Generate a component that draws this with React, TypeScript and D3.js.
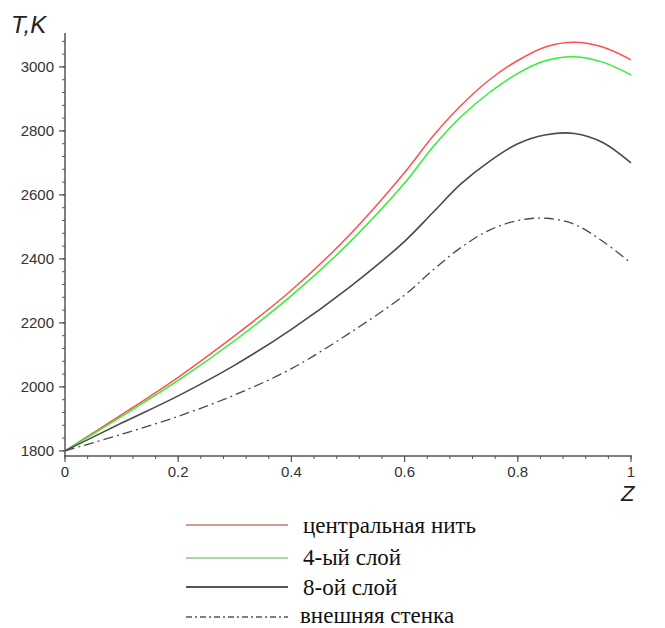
import React, { useEffect, useRef } from 'react';
import * as d3 from 'd3';

// z positions along the channel
const zValues = [0, 0.1, 0.2, 0.3, 0.4, 0.5, 0.6, 0.65, 0.7, 0.75, 0.8, 0.85, 0.9, 0.95, 1];

// temperatures, K
const centralThread = [1800, 1913, 2030, 2160, 2302, 2470, 2670, 2783, 2880, 2960, 3020, 3063, 3077, 3062, 3022];
const layer4 = [1800, 1908, 2020, 2145, 2285, 2447, 2637, 2750, 2845, 2920, 2980, 3020, 3032, 3015, 2975];
const layer8 = [1800, 1887, 1972, 2068, 2180, 2308, 2455, 2545, 2635, 2705, 2760, 2788, 2792, 2764, 2700];
const outerWall = [1800, 1852, 1908, 1975, 2057, 2165, 2287, 2365, 2436, 2490, 2520, 2527, 2508, 2455, 2387];

const seriesNames = ['центральная нить', '4-ый слой', '8-ой слой', 'внешняя стенка'];
const yTicks = [1800, 2000, 2200, 2400, 2600, 2800, 3000];
const xTicks = [0, 0.2, 0.4, 0.6, 0.8, 1];

const App = () => {
  const svgRef = useRef<SVGSVGElement>(null);

  useEffect(() => {
    const svg = d3.select(svgRef.current);
    svg.selectAll('*').remove();

    const x = d3.scaleLinear().domain([0, 1]).range([65, 631]);
    const y = d3.scaleLinear().domain([1784, 3106]).range([456, 33]);

    const axisColor = '#555';
    const sans = "'Liberation Sans', Arial, sans-serif";
    const serif = "'Liberation Serif', 'DejaVu Serif', serif";
    const g = svg.append('g');

    // y axis
    g.append('line')
      .attr('x1', 65).attr('x2', 65)
      .attr('y1', y(1784)).attr('y2', y(3106))
      .attr('stroke', axisColor).attr('stroke-width', 1.5);

    const yMinor = d3.range(1800, 3100, 40);
    g.selectAll('.ymin')
      .data(yMinor)
      .enter().append('line')
      .attr('x1', 62).attr('x2', 65)
      .attr('y1', d => y(d)).attr('y2', d => y(d))
      .attr('stroke', axisColor).attr('stroke-width', 1);

    g.selectAll('.ymaj')
      .data(yTicks)
      .enter().append('line')
      .attr('x1', 59).attr('x2', 65)
      .attr('y1', d => y(d)).attr('y2', d => y(d))
      .attr('stroke', axisColor).attr('stroke-width', 1.2);

    g.selectAll('.ylab')
      .data(yTicks)
      .enter().append('text')
      .attr('x', 54)
      .attr('y', d => y(d))
      .attr('dy', '0.36em')
      .attr('text-anchor', 'end')
      .style('font-family', sans)
      .attr('font-size', 15)
      .attr('fill', '#333')
      .text(d => d);

    // x axis
    g.append('line')
      .attr('x1', 64).attr('x2', x(1) + 1)
      .attr('y1', 456).attr('y2', 456)
      .attr('stroke', axisColor).attr('stroke-width', 1.5);

    const xMinor = d3.range(0, 1.001, 0.04);
    g.selectAll('.xmin')
      .data(xMinor)
      .enter().append('line')
      .attr('x1', d => x(d)).attr('x2', d => x(d))
      .attr('y1', 456).attr('y2', 459)
      .attr('stroke', axisColor).attr('stroke-width', 1);

    g.selectAll('.xmaj')
      .data(xTicks)
      .enter().append('line')
      .attr('x1', d => x(d)).attr('x2', d => x(d))
      .attr('y1', 456).attr('y2', 462)
      .attr('stroke', axisColor).attr('stroke-width', 1.2);

    g.selectAll('.xlab')
      .data(xTicks)
      .enter().append('text')
      .attr('x', d => x(d))
      .attr('y', 477)
      .attr('text-anchor', 'middle')
      .style('font-family', sans)
      .attr('font-size', 15)
      .attr('fill', '#333')
      .text(d => String(d));

    // axis titles
    g.append('text')
      .attr('x', 11).attr('y', 33)
      .style('font-family', sans)
      .attr('font-style', 'italic')
      .attr('font-size', 24)
      .attr('fill', '#222')
      .text('T,K');

    g.append('text')
      .attr('x', 621).attr('y', 501)
      .style('font-family', sans)
      .attr('font-style', 'italic')
      .attr('font-size', 22)
      .attr('fill', '#222')
      .text('Z');

    // curves
    const series = [
      { values: centralThread, color: '#ff5050', dash: null, width: 1.5 },
      { values: layer4, color: '#33ee33', dash: null, width: 1.5 },
      { values: layer8, color: '#4a4a4a', dash: null, width: 1.6 },
      { values: outerWall, color: '#4a4a4a', dash: '10,4,2,4', width: 1.3 },
    ];

    const line = d3.line<number>()
      .x((_, i) => x(zValues[i]))
      .y(d => y(d))
      .curve(d3.curveCatmullRom.alpha(0.5));

    series.forEach(s => {
      g.append('path')
        .datum(s.values)
        .attr('d', line)
        .attr('fill', 'none')
        .attr('stroke', s.color)
        .attr('stroke-width', s.width)
        .attr('stroke-dasharray', s.dash);
    });

    // legend
    const legendColors = ['#c07878', '#88cc88', '#555', '#555'];
    const legendDash = [null, null, null, '6,3,2,3'];
    const lineY = [525, 558, 587, 617];
    const textY = [533, 565, 595, 623];
    seriesNames.forEach((name, i) => {
      g.append('line')
        .attr('x1', 186).attr('x2', 288)
        .attr('y1', lineY[i]).attr('y2', lineY[i])
        .attr('stroke', legendColors[i])
        .attr('stroke-width', i === 2 ? 2 : 1.5)
        .attr('stroke-dasharray', legendDash[i]);
      g.append('text')
        .attr('x', i === 3 ? 300 : 303)
        .attr('y', textY[i])
        .style('font-family', serif)
        .attr('font-size', 23)
        .attr('fill', '#111')
        .text(name);
    });
  }, []);

  return (
    <svg
      ref={svgRef}
      width={665}
      height={628}
      style={{ position: 'absolute', left: 0, top: 0, background: '#fff' }}
    />
  );
};

export default App;
